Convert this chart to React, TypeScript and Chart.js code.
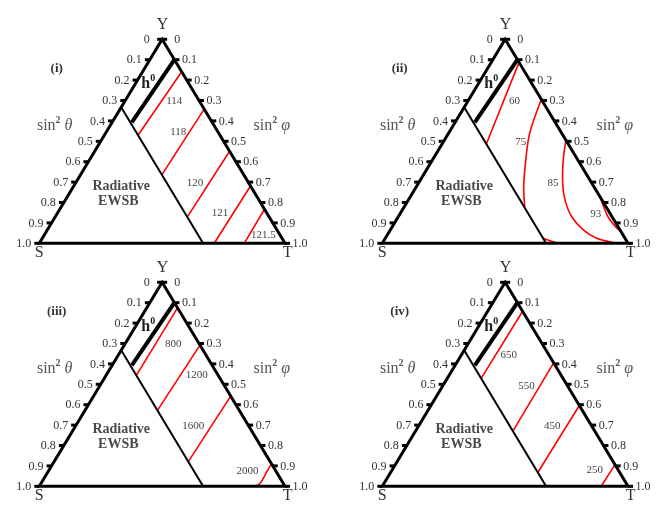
import React, { useEffect, useRef } from 'react';
import { Chart, registerables } from 'chart.js';

Chart.register(...registerables);

type TP = [number, number]; // ternary point: [S fraction (sin²θ side), T fraction (sin²φ side)]

// ---------- data ----------
const TICK_VALUES = [0, 0.1, 0.2, 0.3, 0.4, 0.5, 0.6, 0.7, 0.8, 0.9, 1.0];
const TICK_LABELS = ['0', '0.1', '0.2', '0.3', '0.4', '0.5', '0.6', '0.7', '0.8', '0.9', '1.0'];
const PANEL_TITLES = ['(i)', '(ii)', '(iii)', '(iv)'];
const INNER_BOUNDARY_S = 1 / 3;
const H0_LINE: TP[] = [[0, 0.1], [0.327, 0.08]];
const H0_LABEL_AT: TP = [0.1635, 0.0507];
const EWSB_LABEL_AT: TP[] = [[0.528, 0.195], [0.577, 0.22]];
const EWSB_LABEL = ['Radiative', 'EWSB'];

// panel (i)
const P1_VALUES = ['114', '118', '120', '121', '121.5'];
const P1_CONTOURS: TP[][] = [
  [[0, 0.159], [0.332, 0.137]],
  [[0, 0.342], [0.331, 0.331]],
  [[0, 0.549], [0.334, 0.538]],
  [[0, 0.719], [0.288, 0.712]],
  [[0, 0.833], [0.166, 0.834]],
];
const P1_LABEL_AT: TP[] = [[0.102, 0.201], [0.161, 0.292], [0.218, 0.485], [0.191, 0.662], [0.068, 0.891]];

// panel (ii)
const P2_VALUES = ['60', '75', '85', '93', ''];
const P2_CONTOURS: TP[][] = [
  [[0, 0.113], [0.333, 0.18]],
  [[0, 0.294], [0.13, 0.33], [0.212, 0.38], [0.286, 0.437], [0.333, 0.492]],
  [[0, 0.494], [0.059, 0.532], [0.119, 0.587], [0.15, 0.637], [0.164, 0.706], [0.149, 0.785], [0.115, 0.86], [0.048, 0.952]],
  [[0, 0.771], [0.015, 0.838], [0.016, 0.87], [0.01, 0.91], [0, 0.944]],
  [[0.3325, 0.643], [0.289, 0.708], [0.2495, 0.7505]],
];
const P2_LABEL_AT: TP[] = [[0.112, 0.189], [0.188, 0.314], [0.158, 0.548], [0.06, 0.797]];

// panel (iii)
const P3_VALUES = ['800', '1200', '1600', '2000'];
const P3_CONTOURS: TP[][] = [
  [[0, 0.125], [0.333, 0.123]],
  [[0, 0.308], [0.333, 0.295]],
  [[0, 0.558], [0.333, 0.546]],
  [[0, 0.89], [0.039, 0.89], [0.069, 0.892], [0.099, 0.89], [0.126, 0.874]],
];
const P3_LABEL_AT: TP[] = [[0.106, 0.197], [0.087, 0.368], [0.225, 0.478], [0.115, 0.809]];

// panel (iv)
const P4_VALUES = ['650', '550', '450', '250'];
const P4_CONTOURS: TP[][] = [
  [[0, 0.142], [0.332, 0.138]],
  [[0, 0.395], [0.332, 0.396]],
  [[0, 0.604], [0.332, 0.599]],
  [[0, 0.894], [0.109, 0.891]],
];
const P4_LABEL_AT: TP[] = [[0.164, 0.193], [0.167, 0.34], [0.16, 0.543], [0.097, 0.826]];

const PANELS = [
  { values: P1_VALUES, contours: P1_CONTOURS, labelAt: P1_LABEL_AT },
  { values: P2_VALUES, contours: P2_CONTOURS, labelAt: P2_LABEL_AT },
  { values: P3_VALUES, contours: P3_CONTOURS, labelAt: P3_LABEL_AT },
  { values: P4_VALUES, contours: P4_CONTOURS, labelAt: P4_LABEL_AT },
];

// ---------- layout ----------
const W = 666;
const H = 518;
const PANEL_OFFSETS = [[0, 0], [343, 0], [0, 243], [343, 243]];
const TRI = { left: 39.3, right: 285, top: 39.3, bottom: 243.3 };
const SERIF = '"Liberation Serif", "Times New Roman", serif';

const tern = (s: number, t: number) => {
  const yv = 1 - s - t;
  return { x: t + yv / 2, y: yv };
};

function drawRich(ctx: CanvasRenderingContext2D, parts: [string, string, number][], cx: number, baseline: number, color: string) {
  let w = 0;
  parts.forEach(([t, f]) => { ctx.font = f; w += ctx.measureText(t).width; });
  let xx = cx - w / 2;
  ctx.textAlign = 'left';
  ctx.textBaseline = 'alphabetic';
  ctx.fillStyle = color;
  parts.forEach(([t, f, dy]) => {
    ctx.font = f;
    ctx.fillText(t, xx, baseline + dy);
    xx += ctx.measureText(t).width;
  });
}

function makePlugin(idx: number) {
  const panel = PANELS[idx];
  return {
    id: 'ternaryDecor' + idx,
    afterDatasetsDraw(chart: any) {
      const { ctx } = chart;
      const sx = chart.scales.x;
      const sy = chart.scales.y;
      const P = (x: number, y: number) => [sx.getPixelForValue(x), sy.getPixelForValue(y)];
      const PT = (s: number, t: number) => { const p = tern(s, t); return P(p.x, p.y); };
      ctx.save();
      // ticks
      ctx.strokeStyle = '#000';
      ctx.lineWidth = 3;
      ctx.lineCap = 'butt';
      TICK_VALUES.forEach((v) => {
        const [lx, ly] = PT(v, 0);
        ctx.beginPath(); ctx.moveTo(lx, ly); ctx.lineTo(lx - 5, ly); ctx.stroke();
        const [rx, ry] = PT(0, v);
        ctx.beginPath(); ctx.moveTo(rx, ry); ctx.lineTo(rx + 5, ry); ctx.stroke();
      });
      // tick labels
      ctx.fillStyle = '#333';
      ctx.font = '12px ' + SERIF;
      ctx.textAlign = 'center';
      ctx.textBaseline = 'middle';
      TICK_VALUES.forEach((v, i) => {
        const [lx, ly] = PT(v, 0);
        ctx.fillText(TICK_LABELS[i], lx - 15.5, ly + 0.5);
        const [rx, ry] = PT(0, v);
        ctx.fillText(TICK_LABELS[i], rx + 15, ry + 0.5);
      });
      // corner labels
      ctx.font = '16px ' + SERIF;
      ctx.fillStyle = '#333';
      let p = P(0.5014, 1.0735); ctx.fillText('Y', p[0], p[1]);
      p = P(0, -0.049); ctx.fillText('S', p[0], p[1]);
      p = P(1.011, -0.049); ctx.fillText('T', p[0], p[1]);
      // panel title
      ctx.font = 'bold 13px ' + SERIF;
      ctx.fillStyle = '#333';
      p = P(0.0708, 0.8578); ctx.fillText(PANEL_TITLES[idx], p[0], p[1]);
      // axis titles
      p = P(0.0627, 0.58);
      drawRich(ctx, [['sin', '16px ' + SERIF, 0], ['2', 'bold 10px ' + SERIF, -7], [' ', '16px ' + SERIF, 0], ['θ', 'italic 16px ' + SERIF, 0]], p[0], p[1] + 5, '#555');
      p = P(0.946, 0.58);
      drawRich(ctx, [['sin', '16px ' + SERIF, 0], ['2', 'bold 10px ' + SERIF, -7], [' ', '16px ' + SERIF, 0], ['φ', 'italic 16px ' + SERIF, 0]], p[0], p[1] + 5, '#555');
      // h0
      p = PT(H0_LABEL_AT[0], H0_LABEL_AT[1]);
      drawRich(ctx, [['h', 'bold 16px ' + SERIF, 0], ['0', 'bold 10px ' + SERIF, -7]], p[0], p[1] + 5, '#222');
      // Radiative EWSB
      ctx.font = 'bold 14px ' + SERIF;
      ctx.fillStyle = '#4a4a4a';
      ctx.textAlign = 'center';
      ctx.textBaseline = 'middle';
      EWSB_LABEL.forEach((t, i) => {
        const q = PT(EWSB_LABEL_AT[i][0], EWSB_LABEL_AT[i][1]);
        ctx.fillText(t, q[0], q[1]);
      });
      // contour values
      ctx.font = '11px ' + SERIF;
      ctx.fillStyle = '#444';
      panel.labelAt.forEach((a, i) => {
        const q = PT(a[0], a[1]);
        ctx.fillText(panel.values[i], q[0], q[1]);
      });
      ctx.restore();
    },
  };
}

const line = (pts: TP[], color: string, width: number, tension = 0) => ({
  data: pts.map(([s, t]) => tern(s, t)),
  showLine: true,
  borderColor: color,
  borderWidth: width,
  pointRadius: 0,
  pointHoverRadius: 0,
  fill: false,
  clip: false as any,
  tension,
  borderJoinStyle: 'miter' as const,
  borderCapStyle: 'butt' as const,
});

function Panel({ idx }: { idx: number }) {
  const ref = useRef<HTMLCanvasElement | null>(null);
  useEffect(() => {
    if (!ref.current) return;
    const [ox, oy] = PANEL_OFFSETS[idx];
    const panel = PANELS[idx];
    const frame: TP[] = [[0, 0], [1, 0], [0, 1], [0, 0], [1, 0]];
    const inner: TP[] = [[INNER_BOUNDARY_S, 0], [INNER_BOUNDARY_S, 1 - INNER_BOUNDARY_S]];
    const datasets: any[] = [
      line(frame, '#000', 3),
      line(inner, '#000', 2),
      line(H0_LINE, '#000', 4),
      ...panel.contours.map((c) => line(c, '#ff0000', 1.6, c.length > 2 ? 0.35 : 0)),
    ];
    const chart = new Chart(ref.current, {
      type: 'scatter',
      data: { datasets },
      options: {
        animation: false,
        responsive: false,
        maintainAspectRatio: false,
        devicePixelRatio: 1,
        layout: {
          padding: {
            left: ox + TRI.left,
            top: oy + TRI.top,
            right: W - (ox + TRI.right),
            bottom: H - (oy + TRI.bottom),
          },
        },
        scales: {
          x: { type: 'linear', min: 0, max: 1, display: false },
          y: { type: 'linear', min: 0, max: 1, display: false },
        },
        plugins: { legend: { display: false }, tooltip: { enabled: false } },
        events: [],
      },
      plugins: [makePlugin(idx)],
    } as any);
    return () => chart.destroy();
  }, [idx]);
  return (
    <canvas
      ref={ref}
      width={W}
      height={H}
      style={{ position: 'absolute', left: 0, top: 0, width: W, height: H }}
    />
  );
}

export default function App() {
  return (
    <div style={{ position: 'absolute', left: 0, top: 0, width: W, height: H, background: '#fff', overflow: 'hidden' }}>
      {[0, 1, 2, 3].map((i) => (
        <Panel key={i} idx={i} />
      ))}
    </div>
  );
}
